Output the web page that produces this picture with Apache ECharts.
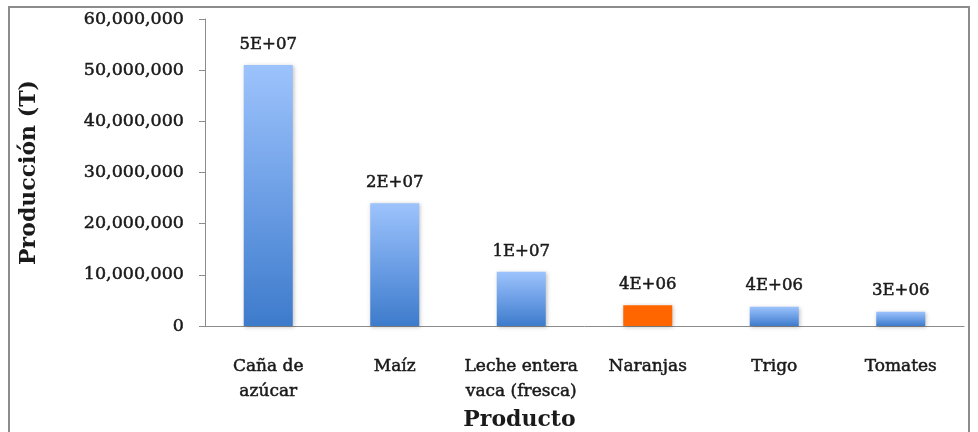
<!DOCTYPE html>
<html>
<head>
<meta charset="utf-8">
<script src="https://cdn.jsdelivr.net/npm/echarts@6/dist/echarts.min.js"></script>
<style>
  html, body { margin: 0; padding: 0; background: #fff; }
  #chart { width: 978px; height: 432px; }
</style>
</head>
<body>
<div id="chart"></div>
<script>
// datos
const productos = ['Caña de\nazúcar', 'Maíz', 'Leche entera\nvaca (fresca)', 'Naranjas', 'Trigo', 'Tomates']
const produccion = [51000000, 24000000, 10600000, 4040000, 3770000, 2800000]
const destacado = 'Naranjas'

const fuente = 'DejaVu Serif'
const tinta = '#1a1a1a'
// slight stroke so the regular face reads a bit heavier, as in the original
const grueso = { textBorderColor: tinta, textBorderWidth: 0.5 }

// 5E+07 style, like the spreadsheet label
function exponencial(v) {
  const [m, e] = v.toExponential(0).split('e')
  const sign = e[0] === '-' ? '-' : '+'
  const exp = Math.abs(parseInt(e, 10)).toString().padStart(2, '0')
  return m + 'E' + sign + exp
}

const azul = new echarts.graphic.LinearGradient(0, 0, 0, 1, [
  { offset: 0, color: '#9dc3fc' },
  { offset: 0.5, color: '#6d9fe6' },
  { offset: 1, color: '#3d7bcb' },
])

const chart = echarts.init(document.getElementById('chart'))

chart.setOption({
  animation: false,
  textStyle: { fontFamily: fuente },
  graphic: [
    {
      type: 'rect',
      shape: { x: 9, y: 7, width: 960, height: 440 },
      style: { fill: 'none', stroke: '#8c8c8c', lineWidth: 2 },
      silent: true,
    },
  ],
  grid: { left: 205, right: 14, top: 19, bottom: 106, outerBoundsMode: 'none' },
  xAxis: {
    type: 'category',
    data: productos,
    name: 'Producto',
    nameLocation: 'middle',
    nameGap: 77,
    nameTextStyle: { fontSize: 22, fontWeight: 'bold', color: tinta, padding: [0, 130, 0, 0] },
    axisLine: { lineStyle: { color: '#8c8c8c', width: 1 } },
    axisTick: { length: 6, lineStyle: { color: '#8c8c8c' } },
    axisLabel: { color: tinta, fontSize: 17, margin: 28, lineHeight: 25, interval: 0, ...grueso },
  },
  yAxis: {
    type: 'value',
    min: 0,
    max: 60000000,
    interval: 10000000,
    name: 'Producción (T)',
    nameLocation: 'middle',
    nameGap: 165,
    nameTextStyle: { fontSize: 22, fontWeight: 'bold', color: tinta },
    axisLine: { show: true, lineStyle: { color: '#8c8c8c', width: 1 } },
    axisTick: { show: true, length: 6, lineStyle: { color: '#8c8c8c' } },
    splitLine: { show: false },
    axisLabel: {
      color: tinta,
      fontSize: 17.5,
      margin: 21,
      ...grueso,
      formatter: v => v.toLocaleString('en-US'),
    },
  },
  series: [
    {
      type: 'bar',
      barWidth: 49,
      data: produccion.map((v, i) => ({
        value: v,
        itemStyle: productos[i] === destacado ? { color: '#ff6600' } : { color: azul },
      })),
      itemStyle: {
        shadowColor: 'rgba(0,0,0,0.25)',
        shadowBlur: 4,
        shadowOffsetX: 1,
        shadowOffsetY: 1,
      },
      label: {
        show: true,
        position: 'top',
        distance: 12,
        fontSize: 16.5,
        color: tinta,
        ...grueso,
        formatter: p => exponencial(p.value),
      },
    },
  ],
})
</script>
</body>
</html>
